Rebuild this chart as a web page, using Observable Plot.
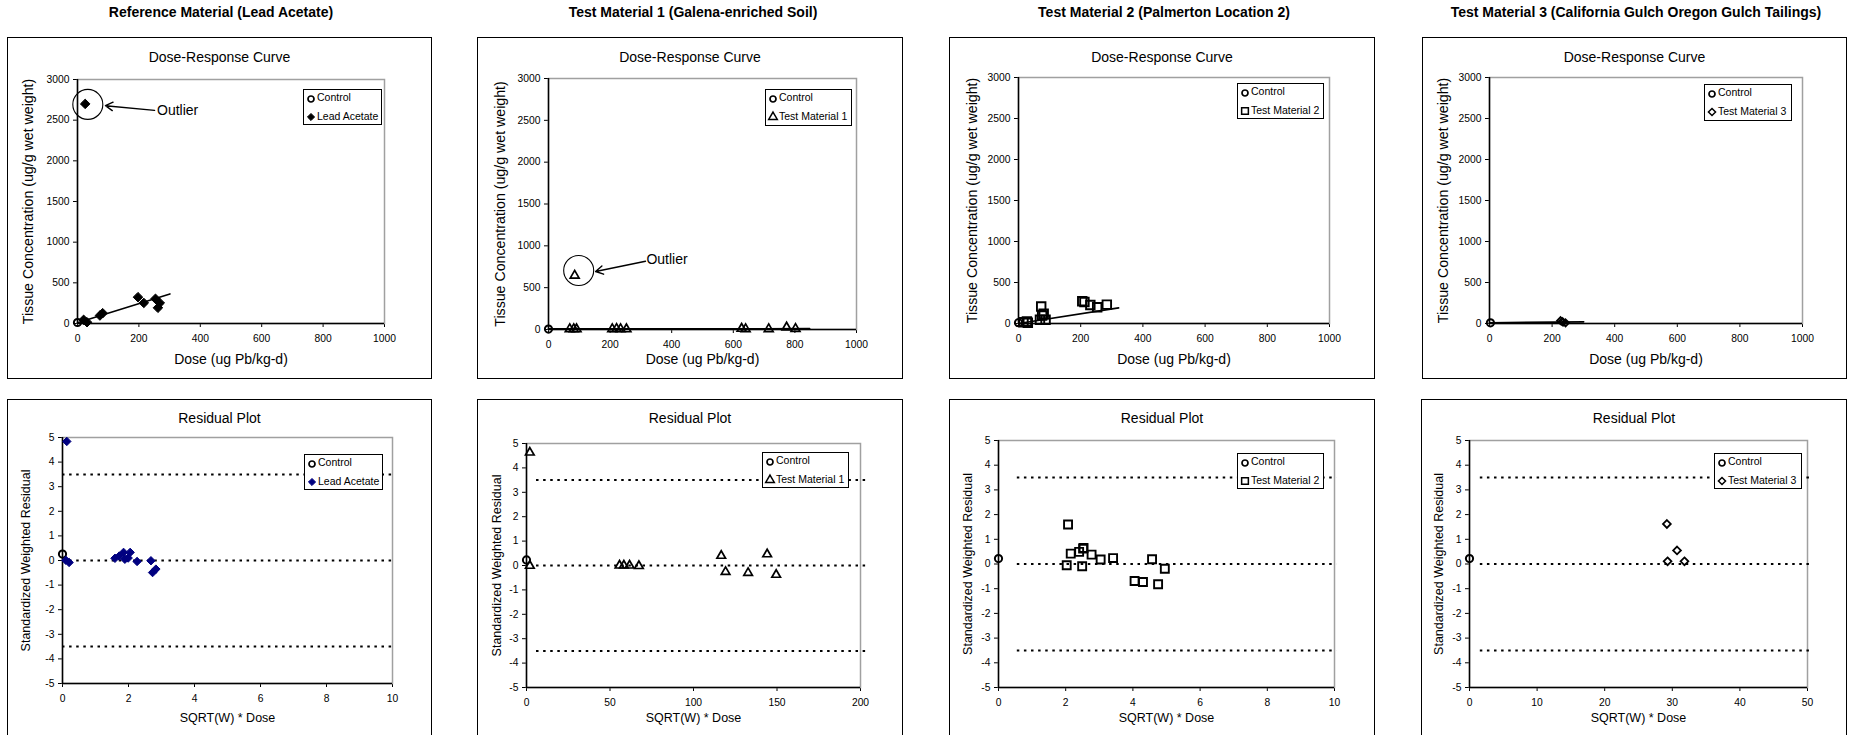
<!DOCTYPE html>
<html><head><meta charset="utf-8">
<script src="https://cdn.jsdelivr.net/npm/d3@7"></script>
<script src="https://cdn.jsdelivr.net/npm/@observablehq/plot@0.6"></script>
<style>
html,body{margin:0;padding:0;background:#fff;overflow:hidden;width:1851px;height:735px;font-family:"Liberation Sans",Arial,sans-serif;color:#000;}
#root{position:relative;width:1851px;height:735px;overflow:hidden;}
.heading{position:absolute;font-weight:bold;font-size:14px;transform:translate(-50%,-50%);white-space:nowrap;}
.box{position:absolute;border:1.5px solid #000;box-sizing:border-box;}
.ptitle{position:absolute;font-size:14px;transform:translate(-50%,-50%);white-space:nowrap;}
.legend{position:absolute;border:1px solid #000;background:#fff;box-sizing:border-box;font-size:10.5px;}
.legend .row{position:absolute;left:0;white-space:nowrap;line-height:11px;}
.legend svg{position:absolute;overflow:visible;}
.plotwrap{position:absolute;}
</style></head><body><div id="root"></div><script>
// ================= DATA =================
const headings = ["Reference Material (Lead Acetate)", "Test Material 1 (Galena-enriched Soil)", "Test Material 2 (Palmerton Location 2)", "Test Material 3 (California Gulch Oregon Gulch Tailings)"];
const seriesNames = ["Lead Acetate", "Test Material 1", "Test Material 2", "Test Material 3"];
const topTitle = "Dose-Response Curve";
const botTitle = "Residual Plot";
const doseLabel = "Dose (ug Pb/kg-d)";
const concLabel = "Tissue Concentration (ug/g wet weight)";
const residXLabel = "SQRT(W) * Dose";
const residYLabel = "Standardized Weighted Residual";
const outlierLabel = "Outlier";

const doseTicks = [0, 200, 400, 600, 800, 1000];
const concTicks = [0, 500, 1000, 1500, 2000, 2500, 3000];
const residTicks = [-5, -4, -3, -2, -1, 0, 1, 2, 3, 4, 5];
const residXTicks = [[0, 2, 4, 6, 8, 10], [0, 50, 100, 150, 200], [0, 2, 4, 6, 8, 10], [0, 10, 20, 30, 40, 50]];
const criticalResid = [3.5, 0, -3.5];
const criticalFrom = [0, 6, 0.56, 1.6];
const criticalTo = [10, 203.4, 10.07, 50.3];

// Dose-response: control group
const ctrlDose = [0, 0, 0, 3];
const ctrlConc = [12, 5, 10, 8];
// Dose-response: treated groups
const leadDose = [20, 31, 73, 82, 197, 216, 254, 268, 262, 25];
const leadConc = [45, 16, 98, 127, 324, 253, 304, 253, 193, 2700];
const tm1Dose = [69, 82, 91, 207, 221, 234, 253, 627, 640, 715, 773, 802, 85];
const tm1Conc = [5, 6, 4, 6, 8, 5, 4, 10, 6, 5, 25, 8, 645];
const tm2Dose = [16, 27, 30, 69, 87, 76, 81, 73, 205, 212, 231, 253, 284];
const tm2Conc = [15, 25, 10, 45, 45, 98, 118, 207, 272, 262, 225, 199, 230];
const tm3Dose = [227, 235, 243, 232];
const tm3Conc = [35, 15, 8, 25];
// Fitted lines (start/end)
const fitDose = [[0, 301], [0, 848], [0, 322], [0, 301]];
const fitConc = [[8, 364], [8, 10], [0, 191], [10, 20]];

// Residual plot: control
const ctrlResX = [0, 0, 0, 0];
const ctrlResY = [0.26, 0.23, 0.22, 0.22];
// Residual plot: treated
const leadResX = [0.13, 0.1, 0.2, 1.59, 1.72, 1.85, 1.89, 1.99, 2.05, 2.26, 2.68, 2.73, 2.83];
const leadResY = [4.84, 0.01, -0.08, 0.09, 0.18, 0.33, 0.05, 0.1, 0.33, -0.04, -0.01, -0.49, -0.35];
const tm1ResX = [2, 2, 55.7, 58.3, 61.7, 67.3, 116.6, 119.2, 132.7, 144.1, 149.5];
const tm1ResY = [4.63, -0.01, 0, 0, 0, -0.02, 0.4, -0.26, -0.3, 0.46, -0.38];
const tm2ResX = [2.07, 2.03, 2.15, 2.4, 2.52, 2.53, 2.49, 2.77, 3.04, 3.41, 4.05, 4.3, 4.57, 4.75, 4.95];
const tm2ResY = [1.6, -0.05, 0.42, 0.49, 0.62, 0.65, -0.09, 0.38, 0.18, 0.24, -0.69, -0.73, 0.19, -0.82, -0.19];
const tm3ResX = [29.2, 29.3, 30.7, 31.8];
const tm3ResY = [1.62, 0.11, 0.55, 0.11];

// Outlier annotations (panels 0 and 1)
const outlierPanel = [0, 1];
const outlierCircX = [33.6, 98];
const outlierCircY = [2694, 705];
const outlierArrowX1 = [251, 315];
const outlierArrowY1 = [2620, 816];
const outlierArrowX2 = [91, 153];
const outlierArrowY2 = [2678, 693];
const outlierTextX = [259, 318];
const outlierTextY = [2620, 833];

// ================= LAYOUT =================
const doseByPanel = [leadDose, tm1Dose, tm2Dose, tm3Dose];
const concByPanel = [leadConc, tm1Conc, tm2Conc, tm3Conc];
const resXByPanel = [leadResX, tm1ResX, tm2ResX, tm3ResX];
const resYByPanel = [leadResY, tm1ResY, tm2ResY, tm3ResY];

const headingX = [221, 693, 1164, 1636];
const topBoxes = [[7, 37, 425, 342], [477, 37, 426, 342], [949, 37, 426, 342], [1422, 37, 425, 342]];
const topPlots = [[77, 79, 384, 323], [548, 78, 856, 329], [1018, 77, 1329, 323], [1489, 77, 1802, 323]];
const botBoxes = [[7, 399, 425, 340], [477, 399, 426, 340], [949, 399, 426, 340], [1421, 399, 426, 340]];
const botPlots = [[62, 437, 392, 683], [526, 443, 860, 687], [998, 440, 1334, 687], [1469, 440, 1807, 687]];
const topLegends = [[303, 89, 79, 36], [765, 89, 87, 37], [1237, 83, 87, 36], [1704, 84, 88, 37]];
const botLegends = [[304, 454, 79, 36], [762, 452, 87, 36], [1237, 453, 87, 36], [1714, 453, 88, 36]];
const topYLabelDx = [49, 48, 46, 46];
const botYLabelDx = [37, 30, 31, 31];

const markerStyles = [
  {symbol: "diamond2", fill: "#000", stroke: "#000", sw: 1, rTop: 4.3, rRes: 3.8, resFill: "#000080", resStroke: "#000080"},
  {symbol: "triangle", fill: "none", stroke: "#000", sw: 1.7, rTop: 3.3, rRes: 3.2},
  {symbol: "square", fill: "none", stroke: "#000", sw: 1.9, rTop: 4.8, rRes: 4.5},
  {symbol: "diamond2", fill: "none", stroke: "#000", sw: 1.8, rTop: 3.2, rRes: 3.5}
];
const d3Sym = {diamond2: d3.symbolDiamond2, triangle: d3.symbolTriangle, square: d3.symbolSquare, circle: d3.symbolCircle};

const root = document.getElementById("root");
function div(cls, css, text) {
  const e = document.createElement("div");
  e.className = cls;
  Object.assign(e.style, css);
  if (text != null) e.textContent = text;
  root.appendChild(e);
  return e;
}
function pts(xs, ys) { return xs.map((x, i) => ({x, y: ys[i]})); }

function legend(box, items) {
  const [lx, ly, lw, lh] = box;
  const L = div("legend", {left: lx + "px", top: ly + "px", width: lw + "px", height: lh + "px"});
  items.forEach((it, k) => {
    const cy = k === 0 ? 9.5 : 28;
    const s = document.createElementNS("http://www.w3.org/2000/svg", "svg");
    s.setAttribute("width", 12); s.setAttribute("height", 12);
    s.style.left = (7 - 6) + "px"; s.style.top = (cy - 6 - 1) + "px";
    const p = document.createElementNS("http://www.w3.org/2000/svg", "path");
    p.setAttribute("d", d3.symbol(d3Sym[it.symbol], Math.PI * it.r * it.r)());
    p.setAttribute("transform", "translate(6,6)");
    p.setAttribute("fill", it.fill); p.setAttribute("stroke", it.stroke); p.setAttribute("stroke-width", it.sw);
    s.appendChild(p); L.appendChild(s);
    const t = document.createElement("div");
    t.className = "row";
    t.style.left = "13px"; t.style.top = (cy - 6.5 - 1) + "px";
    t.textContent = it.label;
    L.appendChild(t);
  });
}

function makePlot(box, plot, cfg) {
  const [bx, by, bw, bh] = box;
  const [pl, pt, pr, pb] = plot;
  const svg = Plot.plot({
    width: bw, height: bh,
    marginLeft: pl - bx, marginRight: bx + bw - pr, marginTop: pt - by, marginBottom: by + bh - pb,
    style: {background: "transparent", fontFamily: "'Liberation Sans', Arial, sans-serif", fontSize: "10.3px", color: "#000", overflow: "visible"},
    x: {domain: cfg.xDomain, ticks: cfg.xTicks, tickSize: 4, tickPadding: 7, label: null, tickFormat: d => String(d)},
    y: {domain: cfg.yDomain, ticks: cfg.yTicks, tickSize: 4, tickPadding: 4, label: null, tickFormat: d => String(d)},
    marks: [
      Plot.frame({stroke: "#a0a0a0", strokeWidth: 1.5}),
      Plot.ruleX([cfg.xDomain[0]], {stroke: "#000", strokeWidth: 1.5}),
      Plot.ruleY([cfg.yDomain[0]], {stroke: "#000", strokeWidth: 1.5}),
      ...cfg.marks,
      Plot.text([cfg.xLabel], {text: d => d, frameAnchor: "bottom", dy: cfg.xLabelDy, textAnchor: "middle", lineAnchor: "middle", fontSize: cfg.xLabelSize, fill: "#000"}),
      Plot.text([cfg.yLabel], {text: d => d, frameAnchor: "left", dx: -cfg.yLabelDx, rotate: -90, textAnchor: "middle", lineAnchor: "middle", fontSize: cfg.yLabelSize, fill: "#000"})
    ]
  });
  const w = div("plotwrap", {left: bx + "px", top: by + "px", width: bw + "px", height: bh + "px"});
  w.appendChild(svg);
}

for (let i = 0; i < 4; i++) {
  div("heading", {left: headingX[i] + "px", top: "12px"}, headings[i]);
  const ms = markerStyles[i];

  // ---- Top: Dose-response ----
  const tb = topBoxes[i];
  div("box", {left: tb[0] + "px", top: tb[1] + "px", width: tb[2] + "px", height: tb[3] + "px"});
  div("ptitle", {left: (tb[0] + tb[2] / 2) + "px", top: "57px"}, topTitle);
  const topMarks = [
    Plot.line(pts(fitDose[i], fitConc[i]), {x: "x", y: "y", stroke: "#000", strokeWidth: 1.6}),
    Plot.dot(pts([ctrlDose[i]], [ctrlConc[i]]), {x: "x", y: "y", r: 3.6, symbol: "circle", fill: "none", stroke: "#000", strokeWidth: 2}),
    Plot.dot(pts(doseByPanel[i], concByPanel[i]), {x: "x", y: "y", r: ms.rTop, symbol: ms.symbol, fill: ms.fill, stroke: ms.stroke, strokeWidth: ms.sw})
  ];
  const oi = outlierPanel.indexOf(i);
  if (oi >= 0) {
    topMarks.push(
      Plot.dot(pts([outlierCircX[oi]], [outlierCircY[oi]]), {x: "x", y: "y", r: 15, fill: "none", stroke: "#000", strokeWidth: 1.1}),
      Plot.arrow([0], {x1: () => outlierArrowX1[oi], y1: () => outlierArrowY1[oi], x2: () => outlierArrowX2[oi], y2: () => outlierArrowY2[oi], stroke: "#000", strokeWidth: 1.4, headLength: 9}),
      Plot.text([outlierLabel], {text: d => d, x: () => outlierTextX[oi], y: () => outlierTextY[oi], textAnchor: "start", fontSize: 14, fill: "#000"})
    );
  }
  makePlot(tb, topPlots[i], {
    xDomain: [0, 1000], xTicks: doseTicks, yDomain: [0, 3000], yTicks: concTicks,
    xLabel: doseLabel, yLabel: concLabel, xLabelDy: 359 - topPlots[i][3], yLabelDx: topYLabelDx[i], xLabelSize: 14, yLabelSize: 14.2,
    marks: topMarks
  });
  legend(topLegends[i], [
    {symbol: "circle", r: 3, fill: "none", stroke: "#000", sw: 1.7, label: "Control"},
    {symbol: ms.symbol, r: ms.symbol === "square" ? 3.8 : 3.2, fill: ms.fill, stroke: ms.stroke, sw: ms.sw === 1 ? 1 : 1.5, label: seriesNames[i]}
  ]);

  // ---- Bottom: Residuals ----
  const bb = botBoxes[i];
  div("box", {left: bb[0] + "px", top: bb[1] + "px", width: bb[2] + "px", height: bb[3] + "px"});
  div("ptitle", {left: (bb[0] + bb[2] / 2) + "px", top: "418px"}, botTitle);
  const rf = ms.resFill || ms.fill, rs = ms.resStroke || ms.stroke;
  const xt = residXTicks[i];
  makePlot(bb, botPlots[i], {
    xDomain: [xt[0], xt[xt.length - 1]], xTicks: xt, yDomain: [-5, 5], yTicks: residTicks,
    xLabel: residXLabel, yLabel: residYLabel, xLabelDy: 717 - botPlots[i][3], yLabelDx: botYLabelDx[i], xLabelSize: 12.5, yLabelSize: 12.5,
    marks: [
      Plot.ruleY(criticalResid, {y: d => d, x1: () => criticalFrom[i], x2: () => criticalTo[i], stroke: "#000", strokeWidth: 2, strokeDasharray: "2.5,4.6"}),
      Plot.dot(pts([ctrlResX[i]], [ctrlResY[i]]), {x: "x", y: "y", r: 3.6, symbol: "circle", fill: "none", stroke: "#000", strokeWidth: 2}),
      Plot.dot(pts(resXByPanel[i], resYByPanel[i]), {x: "x", y: "y", r: ms.rRes, symbol: ms.symbol, fill: rf, stroke: rs, strokeWidth: ms.sw})
    ]
  });
  legend(botLegends[i], [
    {symbol: "circle", r: 3, fill: "none", stroke: "#000", sw: 1.7, label: "Control"},
    {symbol: ms.symbol, r: ms.symbol === "square" ? 3.8 : 3.2, fill: rf, stroke: rs, sw: ms.sw === 1 ? 1 : 1.5, label: seriesNames[i]}
  ]);
}
</script></body></html>
